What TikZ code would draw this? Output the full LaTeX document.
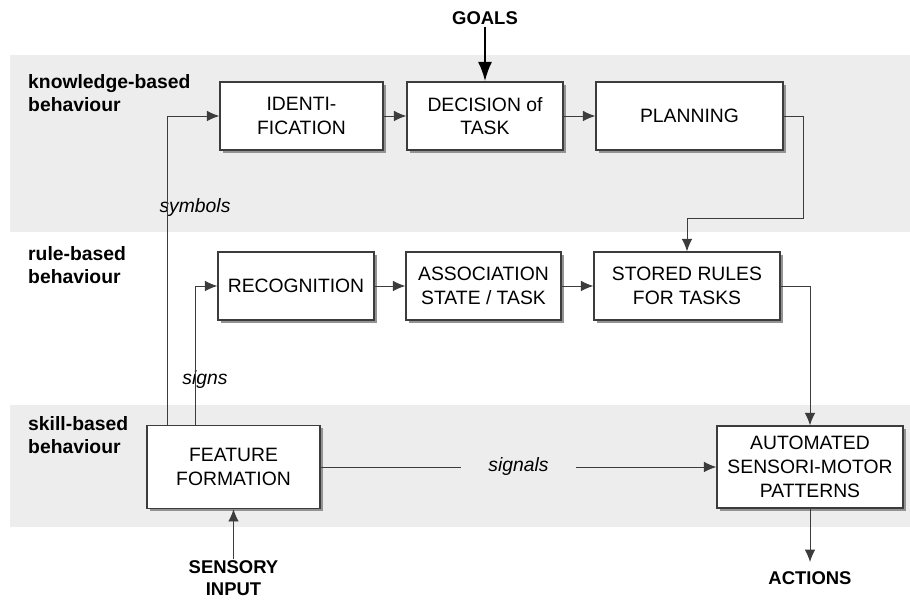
\documentclass[tikz,border=0pt]{standalone}
\usepackage{fontspec}
\setmainfont{Liberation Sans}
\usepackage{tikz}
\usetikzlibrary{arrows.meta,shadows}
\definecolor{bandgray}{RGB}{237,237,237}
\definecolor{linegray}{RGB}{60,60,60}
\tikzset{>={Latex[width=6pt,length=7pt]}}
\tikzset{
	stage/.style={draw=linegray, line width=0.8pt, fill=white, align=center, inner sep=0pt,
		font=\fontsize{11}{13.5}\selectfont,
		drop shadow={shadow xshift=1.6pt, shadow yshift=-1.6pt, fill=gray!85, opacity=1}},
	level/.style={align=left, anchor=west, font=\bfseries\fontsize{11}{13.5}\selectfont},
	tag/.style={align=center, inner sep=1pt, font=\bfseries\fontsize{10.5}{12}\selectfont},
	cue/.style={font=\itshape\fontsize{11}{13}\selectfont},
	link/.style={->, draw=linegray, line width=0.55pt},
}

\begin{document}
\begin{tikzpicture}
					\useasboundingbox (0, 0) rectangle (18.2, 12.02);
					\fill[bandgray] (0.2, 7.38) rectangle (18.2, 10.92);
					\fill[bandgray] (0.2, 1.48) rectangle (18.2, 3.92);
					\node[level] (knowledge) at (0.44, 10.16) {knowledge-based\\behaviour};
					\node[level] (rule) at (0.44, 6.72) {rule-based\\behaviour};
					\node[level] (skill) at (0.44, 3.32) {skill-based\\behaviour};
					\node[stage, minimum width=3.26cm, minimum height=1.36cm] (ident) at (6.03, 9.70) {IDENTI-\\FICATION};
					\node[stage, minimum width=3.12cm, minimum height=1.36cm] (decision) at (9.70, 9.70) {DECISION of\\TASK};
					\node[stage, minimum width=3.74cm, minimum height=1.36cm] (planning) at (13.79, 9.70) {PLANNING};
					\node[stage, minimum width=3.12cm, minimum height=1.36cm] (recog) at (5.92, 6.30) {RECOGNITION};
					\node[stage, minimum width=3.10cm, minimum height=1.36cm] (assoc) at (9.67, 6.30) {ASSOCIATION\\STATE / TASK};
					\node[stage, minimum width=3.72cm, minimum height=1.36cm] (stored) at (13.74, 6.30) {STORED RULES\\FOR TASKS};
					\node[stage, minimum width=3.46cm, minimum height=1.66cm] (feature) at (4.67, 2.68) {FEATURE\\FORMATION};
					\node[stage, minimum width=3.72cm, minimum height=1.64cm] (automated) at (16.20, 2.68) {AUTOMATED\\SENSORI-MOTOR\\PATTERNS};
					\node[tag] (goals) at (9.70, 11.66) {GOALS};
					\node[tag, anchor=north] (sensory) at (4.67, 0.84) {SENSORY\\INPUT};
					\node[tag, anchor=north, inner ysep=5pt] (actions) at (16.20, 0.78) {ACTIONS};
					\node[cue] (symbols) at (3.90, 7.86) {symbols};
					\node[cue] (signs) at (4.10, 4.42) {signs};
					\draw[->, draw=black, line width=1.3pt, >={Latex[width=8pt,length=11pt]}] (goals) -- (decision);
					\draw[link] (ident) -- (decision);
					\draw[link] (decision) -- (planning);
					\draw[link] (recog) -- (assoc);
					\draw[link] (assoc) -- (stored);
					\draw[link] ([xshift=0.42cm]feature.north west) |- (ident.west);
					\draw[link] ([xshift=0.98cm]feature.north west) |- (recog.west);
					\draw[link] (planning.east) -| (16.06, 7.66) -| (stored.north);
					\draw[link] (stored.east) -| (automated.north);
					\draw[link] (feature.east) -- node[cue, fill=bandgray, inner xsep=0.55cm] (signals) {signals} (automated.west);
					\draw[link] (sensory) -- (feature);
					\draw[link] (automated) -- (actions);
				\end{tikzpicture}
\end{document}
